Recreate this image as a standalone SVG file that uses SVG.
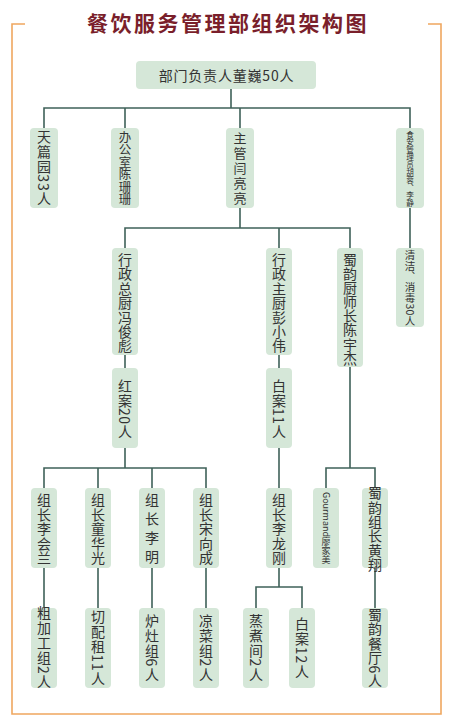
<svg xmlns="http://www.w3.org/2000/svg" width="454" height="720" viewBox="0 0 454 720">
<defs>
<linearGradient id="gl" x1="0" y1="0" x2="1" y2="0"><stop offset="0" stop-color="#f0b27a"/><stop offset="1" stop-color="#fbe9d6"/></linearGradient>
<linearGradient id="gr" x1="1" y1="0" x2="0" y2="0"><stop offset="0" stop-color="#f0b27a"/><stop offset="1" stop-color="#fbe9d6"/></linearGradient>
</defs>
<style>
.n{fill:#d5e7d8}
.t{font-family:"Noto Sans CJK SC","Noto Sans",sans-serif;fill:#333;writing-mode:vertical-rl;text-orientation:mixed;text-anchor:middle}
.h{font-family:"Noto Sans CJK SC","Noto Sans",sans-serif;fill:#333;text-anchor:middle}
.c{fill:none;stroke:#3f6159;stroke-width:1.6}
</style>
<rect width="454" height="720" fill="#fff"/>
<path d="M25,24 H12 V714 H441 V24 H428" fill="none" stroke="#efa75f" stroke-width="1.6"/>
<g stroke-width="1.2">
<line x1="25" y1="19.5" x2="76" y2="19.5" stroke="url(#gl)"/>
<line x1="25" y1="24" x2="76" y2="24" stroke="url(#gl)" stroke-width="2"/>
<line x1="25" y1="28.5" x2="76" y2="28.5" stroke="url(#gl)"/>
<line x1="377" y1="19.5" x2="428" y2="19.5" stroke="url(#gr)"/>
<line x1="377" y1="24" x2="428" y2="24" stroke="url(#gr)" stroke-width="2"/>
<line x1="377" y1="28.5" x2="428" y2="28.5" stroke="url(#gr)"/>
</g>
<text x="228" y="31" font-family="'Noto Sans CJK SC',sans-serif" font-weight="bold" font-size="21" letter-spacing="2.5" fill="#7a1f2b" text-anchor="middle">餐饮服务管理部组织架构图</text>

<g id="connectors">
<path class="c" d="M231,89 V108 M44,128 V108 H410 V128 M125,108 V128 M240,108 V128"/>
<path class="c" d="M410,208 V248"/>
<path class="c" d="M240,208 V228 M125,248 V228 H350 V248 M279,228 V248"/>
<path class="c" d="M125,355 V368 M279,355 V368"/>
<path class="c" d="M125,448 V468 M44,488 V468 H206 V488 M98,468 V488 M152,468 V488"/>
<path class="c" d="M279,448 V488"/>
<path class="c" d="M350,367 V468 M326,488 V468 H375 V488"/>
<path class="c" d="M44,568 V608 M98,568 V608 M152,568 V608 M206,568 V608 M375,568 V608"/>
<path class="c" d="M279,568 V587 M256,608 V587 H302 V608"/>
</g>

<g id="n-top"><rect class="n" x="136" y="61" width="180" height="28" rx="4"/><text class="h" x="226.5" y="80.5" style="font-size:14px" letter-spacing="0.8">部门负责人董巍50人</text></g>

<g id="n-tianlan"><rect class="n" x="30" y="128" width="28" height="80" rx="4"/><text class="t" x="44" y="168" style="font-size:14px" letter-spacing="1">天篇园33人</text></g>
<g id="n-office"><rect class="n" x="111" y="128" width="28" height="80" rx="4"/><text class="t" x="125" y="168" style="font-size:12.5px">办公室陈珊珊</text></g>
<g id="n-zhuguan"><rect class="n" x="226" y="128" width="28" height="80" rx="4"/><text class="t" x="240" y="169" style="font-size:13px" letter-spacing="2">主管闫亮亮</text></g>
<g id="n-shian"><rect class="n" x="396" y="128" width="28" height="80" rx="4"/><text class="t" x="410" y="169" style="font-size:7.6px">食安管理员胡蓉、李静</text></g>
<g id="n-qingjie"><rect class="n" x="396" y="248" width="28" height="79" rx="4"/><text class="t" x="410" y="288" style="font-size:10.5px" letter-spacing="0.3">清洁、消毒30人</text></g>

<g id="n-xzzc"><rect class="n" x="112" y="248" width="26" height="107" rx="4"/><text class="t" x="125" y="303" style="font-size:14px" letter-spacing="0.4">行政总厨冯俊彪</text></g>
<g id="n-xzzc2"><rect class="n" x="266" y="248" width="26" height="107" rx="4"/><text class="t" x="279" y="303" style="font-size:14px" letter-spacing="0.4">行政主厨彭小伟</text></g>
<g id="n-shuyun"><rect class="n" x="337" y="248" width="26" height="119" rx="4"/><text class="t" x="350" y="309" style="font-size:14px" letter-spacing="0.1">蜀韵厨师长陈宇杰</text></g>

<g id="n-hongan"><rect class="n" x="112" y="368" width="26" height="80" rx="4"/><text class="t" x="125" y="409" style="font-size:14px" letter-spacing="0.5">红案20人</text></g>
<g id="n-baian"><rect class="n" x="266" y="368" width="26" height="80" rx="4"/><text class="t" x="279" y="409" style="font-size:14px" letter-spacing="0.5">白案11人</text></g>

<g id="n-lhl"><rect class="n" x="31" y="488" width="26" height="80" rx="4"/><text class="t" x="44" y="529" style="font-size:14px" letter-spacing="0.4">组长李会兰</text></g>
<g id="n-thg"><rect class="n" x="85" y="488" width="26" height="80" rx="4"/><text class="t" x="98" y="529" style="font-size:14px" letter-spacing="0.4">组长童华光</text></g>
<g id="n-lm"><rect class="n" x="139" y="488" width="26" height="80" rx="4"/><text class="t" x="152" y="531" style="font-size:14px" letter-spacing="5">组长李明</text></g>
<g id="n-sxc"><rect class="n" x="193" y="488" width="26" height="80" rx="4"/><text class="t" x="206" y="529" style="font-size:14px" letter-spacing="0.4">组长宋向成</text></g>
<g id="n-llg"><rect class="n" x="266" y="488" width="26" height="80" rx="4"/><text class="t" x="279" y="529" style="font-size:14px" letter-spacing="0.4">组长李龙刚</text></g>
<g id="n-gourmand"><rect class="n" x="313" y="488" width="26" height="80" rx="4"/><text class="t" x="326" y="528" style="font-size:9px">Gourmand廖家美</text></g>
<g id="n-hx"><rect class="n" x="362" y="488" width="26" height="80" rx="4"/><text class="t" x="375" y="529" style="font-size:14px" letter-spacing="0.4">蜀韵组长黄翔</text></g>

<g id="n-cjg"><rect class="n" x="31" y="608" width="26" height="80" rx="4"/><text class="t" x="44" y="648" style="font-size:14px" letter-spacing="1">粗加工组2人</text></g>
<g id="n-qpz"><rect class="n" x="85" y="608" width="26" height="80" rx="4"/><text class="t" x="98" y="648" style="font-size:14px" letter-spacing="1">切配租11人</text></g>
<g id="n-lzz"><rect class="n" x="139" y="608" width="26" height="80" rx="4"/><text class="t" x="152" y="648" style="font-size:14px" letter-spacing="1">炉灶组6人</text></g>
<g id="n-lcz"><rect class="n" x="193" y="608" width="26" height="80" rx="4"/><text class="t" x="206" y="648" style="font-size:14px" letter-spacing="1">凉菜组2人</text></g>
<g id="n-zzj"><rect class="n" x="243" y="608" width="26" height="80" rx="4"/><text class="t" x="256" y="648" style="font-size:14px" letter-spacing="1">蒸煮间2人</text></g>
<g id="n-ba12"><rect class="n" x="289" y="608" width="26" height="80" rx="4"/><text class="t" x="302" y="648" style="font-size:14px" letter-spacing="1">白案12人</text></g>
<g id="n-sycf"><rect class="n" x="362" y="608" width="26" height="80" rx="4"/><text class="t" x="375" y="648" style="font-size:14px" letter-spacing="0.5">蜀韵餐厅6人</text></g>
</svg>
